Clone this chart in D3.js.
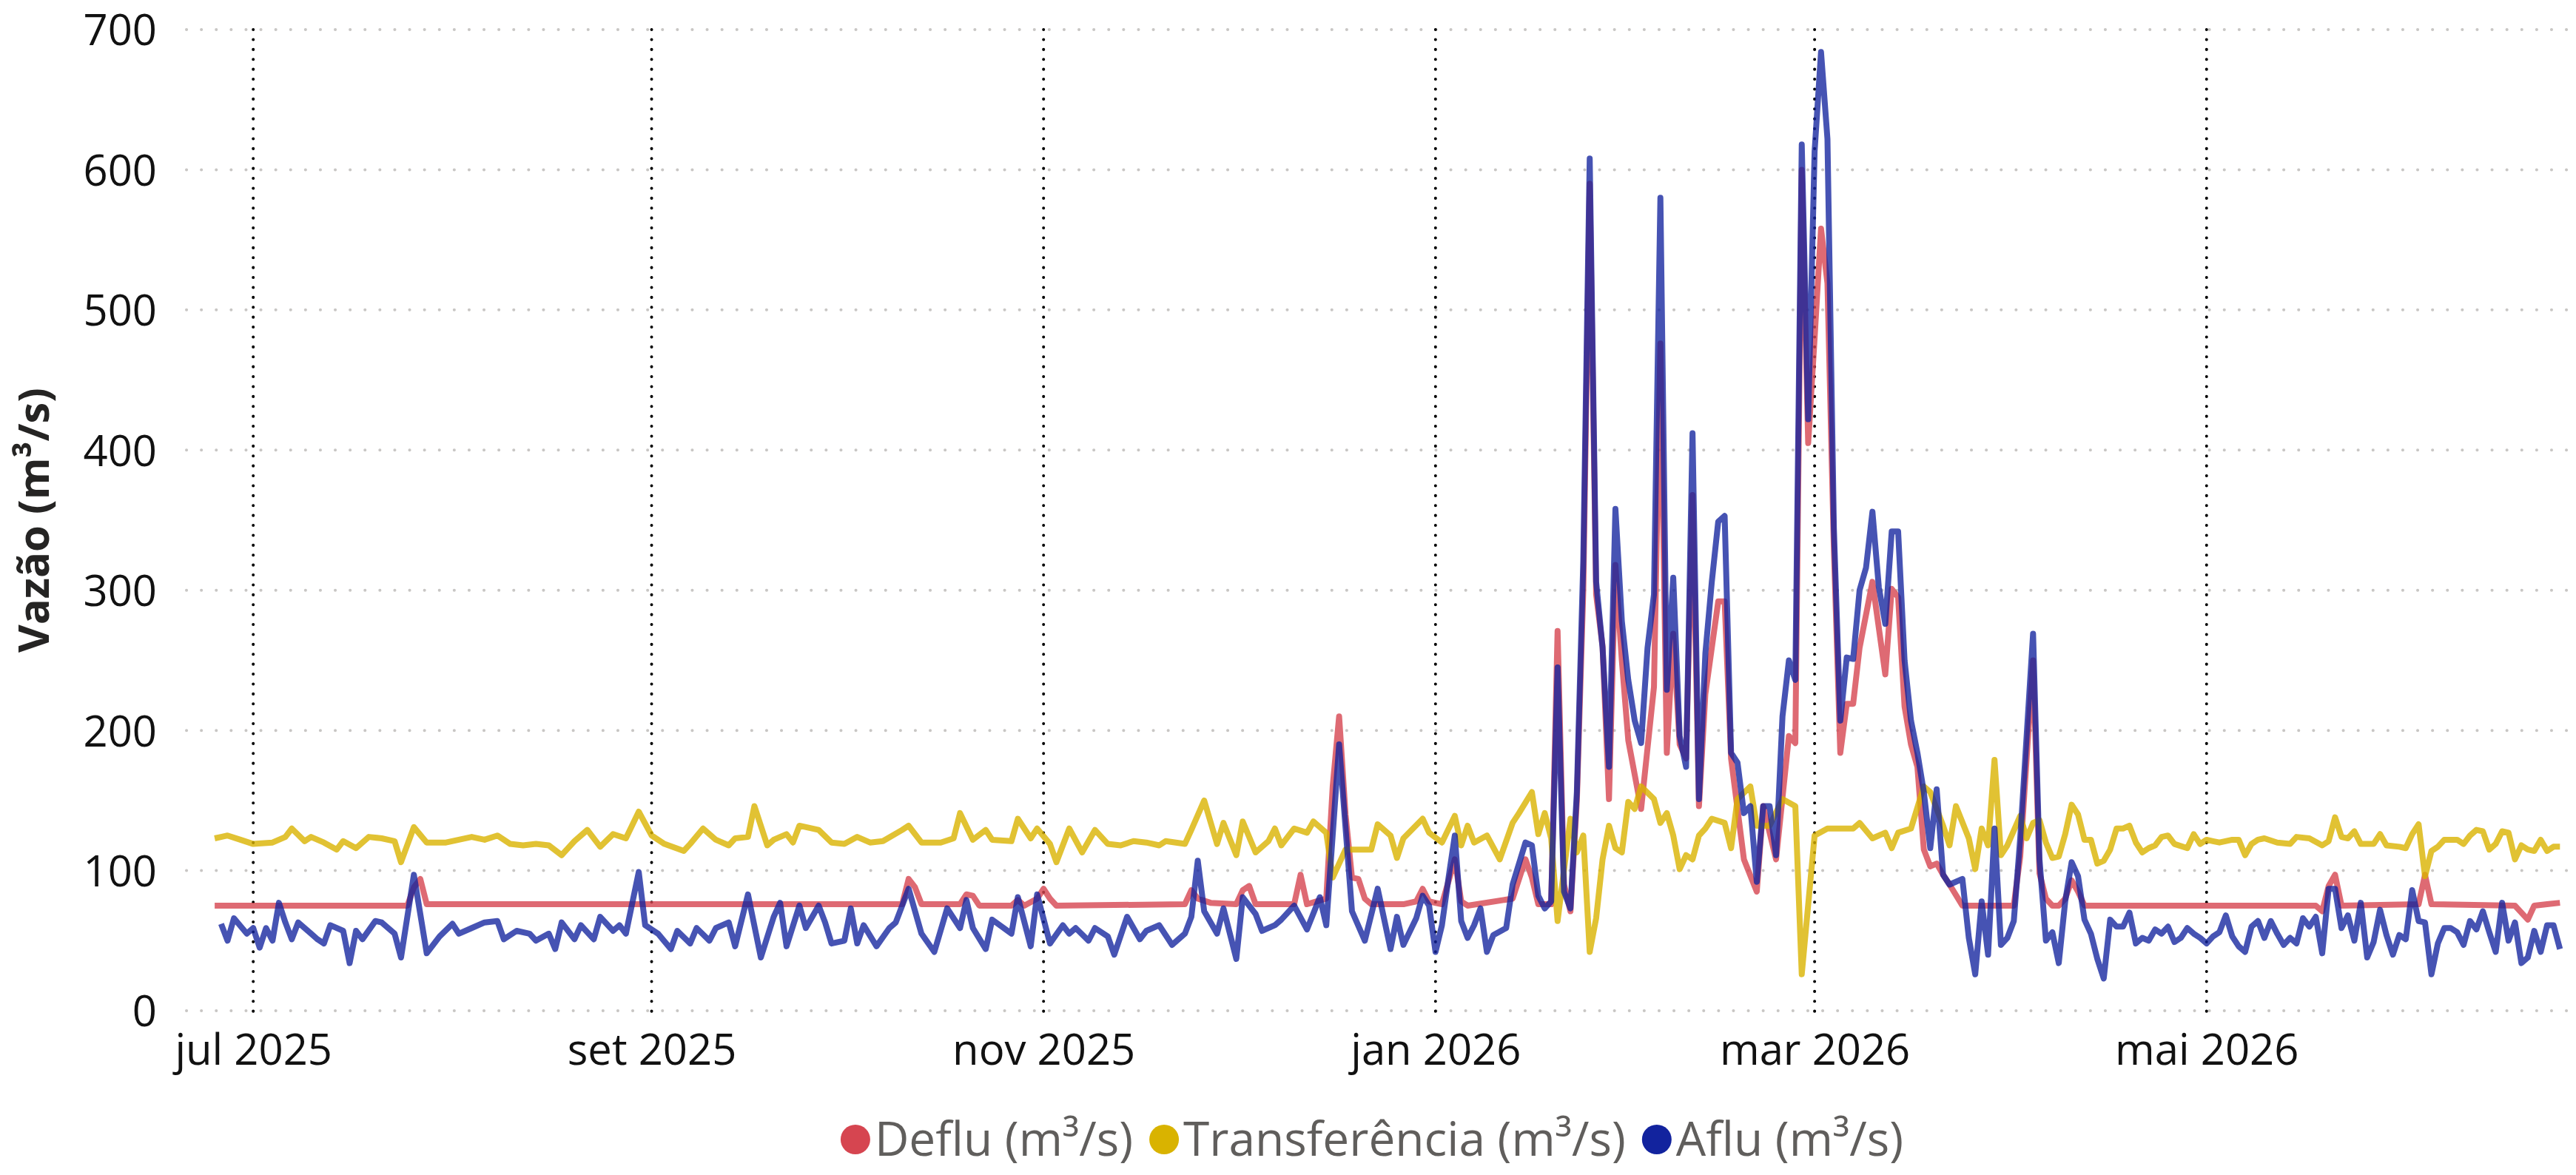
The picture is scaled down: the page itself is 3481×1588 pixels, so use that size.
<!DOCTYPE html>
<html>
<head>
<meta charset="utf-8">
<script src="https://cdn.jsdelivr.net/npm/d3@7"></script>
<style>
  body { margin: 0; background: #fff; }
  svg text { font-family: "Open Sans", "Noto Sans", sans-serif; }
</style>
</head>
<body>
<div id="chart"></div>
<script>
// series: [days after 2025-06-19, m3/s]
var deflu = [
  [6,75],[36,75],[37,88],[38,94],[39,76],[113,76],[114,94],[115,88],[116,76],[122,76],[123,83],[124,82],[125,75],
  [130,75],[131,79],[132,75],[134,80],[135,87],[136,80],[137,75],[157,76],[158,86],[159,80],[161,77],[165,76],
  [166,86],[167,89],[168,76],[174,76],[175,97],[176,76],[179,80],[180,160],[181,210],[182,140],[183,95],[184,94],
  [185,80],[186,76],[191,76],[193,78],[194,87],[195,78],[197,76],[199,108],[200,78],[201,75],[208,80],[210,108],
  [211,95],[212,76],[214,76],[215,271],[216,90],[217,71],[218,150],[219,300],[220,590],[221,297],[222,260],
  [223,151],[224,318],[225,250],[226,193],[228,144],[230,231],[231,476],[232,184],[233,269],[234,190],[235,180],
  [236,368],[237,146],[238,226],[240,292],[241,292],[242,180],[244,108],[246,85],[247,146],[249,108],[251,196],
  [252,191],[253,600],[254,405],[255,480],[256,558],[257,519],[258,330],[259,184],[260,219],[261,219],[262,259],
  [264,306],[266,240],[267,301],[268,295],[269,217],[270,190],[271,174],[272,115],[273,103],[274,105],[275,97],
  [276,90],[278,75],[286,75],[287,110],[289,250],[290,98],[291,80],[292,75],[293,75],[294,80],[295,93],[296,85],
  [297,75],[333,75],[334,71],[335,89],[336,97],[337,75],[349,76],[350,97],[351,76],[364,75],[366,65],[367,75],
  [369,76],[371,77]
];

var transf = [
  [6,123],[7,124],[8,125],[10,122],[12,119],[15,120],[17,124],[18,130],[20,121],[21,124],[23,120],[25,115],[26,121],
  [28,116],[30,124],[32,123],[34,121],[35,106],[37,131],[39,120],[42,120],[44,122],[46,124],[48,122],[50,125],
  [52,119],[54,118],[56,119],[58,118],[60,111],[62,121],[64,129],[66,117],[68,126],[70,123],[72,142],[74,125],
  [76,119],[79,114],[80,119],[82,130],[84,122],[86,118],[87,123],[89,124],[90,146],[92,118],[93,122],[95,126],
  [96,120],[97,132],[100,129],[102,120],[104,119],[106,124],[108,120],[110,121],[113,129],[114,132],[116,120],
  [119,120],[121,123],[122,141],[124,122],[126,129],[127,122],[130,121],[131,137],[133,123],[134,130],[136,119],
  [137,106],[139,130],[141,113],[143,129],[145,119],[147,118],[149,121],[151,120],[153,118],[154,121],[157,119],
  [158,129],[160,150],[162,119],[163,134],[165,111],[166,135],[168,113],[170,121],[171,130],[172,118],[174,130],
  [176,127],[177,135],[179,127],[180,95],[182,115],[184,115],[186,115],[187,133],[189,125],[190,109],[191,123],
  [194,137],[195,127],[197,120],[199,139],[200,118],[201,132],[202,120],[204,125],[206,108],[208,134],[209,141],
  [211,156],[212,126],[213,141],[214,123],[215,64],[217,137],[218,113],[219,125],[220,42],[221,66],[222,108],
  [223,132],[224,116],[225,113],[226,149],[227,144],[228,160],[230,151],[231,134],[232,141],[233,125],[234,101],
  [235,111],[236,108],[237,125],[238,130],[239,137],[241,134],[242,116],[243,151],[245,160],[246,132],[248,132],
  [250,151],[252,146],[253,26],[255,125],[257,130],[261,130],[262,134],[264,123],[266,127],[267,116],[268,127],
  [270,130],[272,160],[273,156],[275,132],[276,118],[277,146],[279,123],[280,101],[281,130],[282,118],[283,179],
  [284,111],[285,118],[287,139],[288,123],[289,134],[290,136],[291,120],[292,109],[293,110],[294,126],[295,147],
  [296,140],[297,122],[298,122],[299,105],[300,107],[301,115],[302,130],[303,130],[304,132],[305,120],[306,113],
  [307,116],[308,118],[309,124],[310,125],[311,119],[313,116],[314,126],[315,119],[316,122],[317,121],[318,120],
  [320,122],[321,122],[322,111],[323,119],[324,122],[325,123],[327,120],[329,119],[330,124],[332,123],[334,118],
  [335,121],[336,138],[337,124],[338,123],[339,128],[340,119],[342,119],[343,126],[344,118],[346,117],[347,116],
  [348,126],[349,133],[350,96],[351,114],[352,117],[353,122],[355,122],[356,119],[357,125],[358,129],[359,128],
  [360,115],[361,119],[362,128],[363,127],[364,108],[365,118],[366,115],[367,114],[368,122],[369,114],[370,117],
  [371,117]
];

var aflu = [
  [7,62],[8,50],[9,66],[11,55],[12,59],[13,45],[14,59],[15,50],[16,77],[17,63],[18,51],[19,63],[21,55],[22,51],
  [23,48],[24,61],[26,57],[27,34],[28,57],[29,51],[31,64],[32,63],[34,55],[35,38],[37,97],[39,41],[41,53],[43,62],
  [44,55],[46,59],[48,63],[50,64],[51,51],[53,57],[55,55],[56,50],[58,55],[59,44],[60,63],[62,51],[63,61],[65,51],
  [66,67],[68,57],[69,61],[70,55],[72,99],[73,61],[75,55],[77,44],[78,57],[80,48],[81,59],[83,50],[84,59],[86,63],
  [87,46],[89,83],[91,38],[93,67],[94,77],[95,46],[97,75],[98,59],[100,75],[101,63],[102,48],[104,50],[105,73],
  [106,48],[107,61],[109,46],[111,59],[112,63],[114,87],[116,55],[118,42],[120,73],[122,59],[123,79],[124,59],
  [126,44],[127,65],[130,55],[131,81],[133,46],[134,83],[136,48],[138,61],[139,55],[140,59],[142,50],[143,59],
  [145,53],[146,40],[148,67],[150,51],[151,57],[153,61],[155,47],[157,55],[158,67],[159,107],[160,71],[162,55],
  [163,73],[165,37],[166,81],[168,69],[169,57],[171,61],[172,65],[174,75],[176,58],[178,81],[179,61],[181,190],
  [183,71],[185,50],[187,87],[189,44],[190,67],[191,47],[193,66],[194,82],[195,75],[196,42],[197,61],[198,94],
  [199,125],[200,64],[201,52],[202,61],[203,73],[204,42],[205,54],[207,59],[208,90],[210,120],[211,118],[212,82],
  [213,73],[214,78],[215,245],[216,85],[217,73],[218,156],[219,321],[220,608],[221,306],[222,259],[223,174],
  [224,358],[225,278],[226,236],[227,207],[228,191],[229,259],[230,297],[231,580],[232,229],[233,309],[234,196],
  [235,174],[236,412],[237,151],[238,255],[239,306],[240,349],[241,353],[242,184],[243,177],[244,141],[245,146],
  [246,92],[247,146],[248,146],[249,111],[250,210],[251,250],[252,236],[253,618],[254,422],[255,613],[256,684],
  [257,622],[258,344],[259,207],[260,252],[261,251],[262,300],[263,316],[264,356],[265,302],[266,276],[267,342],
  [268,342],[269,250],[270,207],[271,184],[272,156],[273,116],[274,158],[275,97],[276,90],[278,94],[279,52],
  [280,26],[281,78],[282,40],[283,130],[284,47],[285,52],[286,64],[287,123],[289,269],[290,108],[291,50],[292,56],
  [293,34],[294,78],[295,106],[296,96],[297,65],[298,55],[299,37],[300,23],[301,65],[302,60],[303,60],[304,70],
  [305,48],[306,52],[307,50],[308,58],[309,55],[310,60],[311,49],[312,52],[313,59],[314,55],[315,52],[316,48],
  [317,53],[318,56],[319,68],[320,53],[321,46],[322,42],[323,60],[324,64],[325,52],[326,64],[327,55],[328,47],
  [329,52],[330,48],[331,66],[332,60],[333,67],[334,41],[335,87],[336,87],[337,59],[338,68],[339,50],[340,77],
  [341,38],[342,49],[343,72],[344,54],[345,40],[346,54],[347,51],[348,86],[349,64],[350,63],[351,26],[352,48],
  [353,59],[354,59],[355,56],[356,47],[357,64],[358,58],[359,71],[360,56],[361,42],[362,77],[363,50],[364,63],
  [365,34],[366,38],[367,57],[368,42],[369,61],[370,61],[371,44]
];

var seriesNames = ["Deflu (m³/s)", "Transferência (m³/s)", "Aflu (m³/s)"];
var seriesColors = ["#D64550", "#D9B300", "#12239E"];
var tickDates = ["2025-07-01", "2025-09-01", "2025-11-01", "2026-01-01", "2026-03-01", "2026-05-01"];
var tickLabels = ["jul 2025", "set 2025", "nov 2025", "jan 2026", "mar 2026", "mai 2026"];
var yTicks = [0, 100, 200, 300, 400, 500, 600, 700];

var W = 3481, H = 1588;
var base = new Date(2025, 5, 19);
var parse = d3.timeParse("%Y-%m-%d");

var svg = d3.select("#chart").append("svg")
  .attr("width", W).attr("height", H);

var x = d3.scaleTime()
  .domain([base, d3.timeDay.offset(base, 372)])
  .range([238, 3468]);
var y = d3.scaleLinear().domain([0, 700]).range([1366, 40]);

// horizontal gridlines
svg.append("g").selectAll("line").data(yTicks).enter().append("line")
  .attr("x1", 252).attr("x2", 3478)
  .attr("y1", function(d) { return y(d); }).attr("y2", function(d) { return y(d); })
  .attr("stroke", "#C8C6C4").attr("stroke-width", 4)
  .attr("stroke-linecap", "round").attr("stroke-dasharray", "0.1,20");

// vertical gridlines
svg.append("g").selectAll("line").data(tickDates).enter().append("line")
  .attr("x1", function(d) { return x(parse(d)); }).attr("x2", function(d) { return x(parse(d)); })
  .attr("y1", 40).attr("y2", 1372)
  .attr("stroke", "#000").attr("stroke-width", 4)
  .attr("stroke-linecap", "round").attr("stroke-dasharray", "0.1,13.3");

// y axis
var yAxis = svg.append("g")
  .attr("transform", "translate(212,0)")
  .call(d3.axisLeft(y).tickValues(yTicks).tickSize(0).tickPadding(0));
yAxis.select(".domain").remove();
yAxis.selectAll("text").attr("font-size", 58).attr("fill", "#111").attr("dy", "0.36em");

// x axis
var xAxis = svg.append("g")
  .attr("transform", "translate(0,1378)")
  .call(d3.axisBottom(x).tickValues(tickDates.map(parse))
    .tickFormat(function(d, i) { return tickLabels[i]; })
    .tickSize(0).tickPadding(0));
xAxis.select(".domain").remove();
xAxis.selectAll("text").attr("font-size", 58).attr("fill", "#111").attr("dy", "1.05em");

// y title
svg.append("text")
  .attr("transform", "translate(66,703) rotate(-90)")
  .attr("text-anchor", "middle")
  .attr("font-size", 58).attr("font-weight", "bold").attr("fill", "#252423")
  .text("Vazão (m³/s)");

// lines
var line = d3.line()
  .x(function(d) { return x(d3.timeDay.offset(base, d[0])); })
  .y(function(d) { return y(d[1]); });

[deflu, transf, aflu].forEach(function(s, i) {
  svg.append("path")
    .datum(s)
    .attr("fill", "none")
    .attr("stroke", seriesColors[i])
    .attr("stroke-opacity", i == 2 ? 0.78 : 0.8)
    .attr("stroke-width", 8)
    .attr("stroke-linejoin", "round")
    .attr("d", line);
});

// legend
var leg = svg.append("g");
var lx = 0;
seriesNames.forEach(function(n, i) {
  var g = leg.append("g").attr("transform", "translate(" + lx + ",0)");
  g.append("circle").attr("cx", 20).attr("cy", -22).attr("r", 20).attr("fill", seriesColors[i]);
  var t = g.append("text").attr("x", 46).attr("y", 0)
    .attr("font-size", 64).attr("fill", "#605E5C").text(n);
  lx += 46 + t.node().getComputedTextLength() + 22;
});
leg.attr("transform", "translate(" + (1865 - lx / 2) + ",1562)");
</script>
</body>
</html>
